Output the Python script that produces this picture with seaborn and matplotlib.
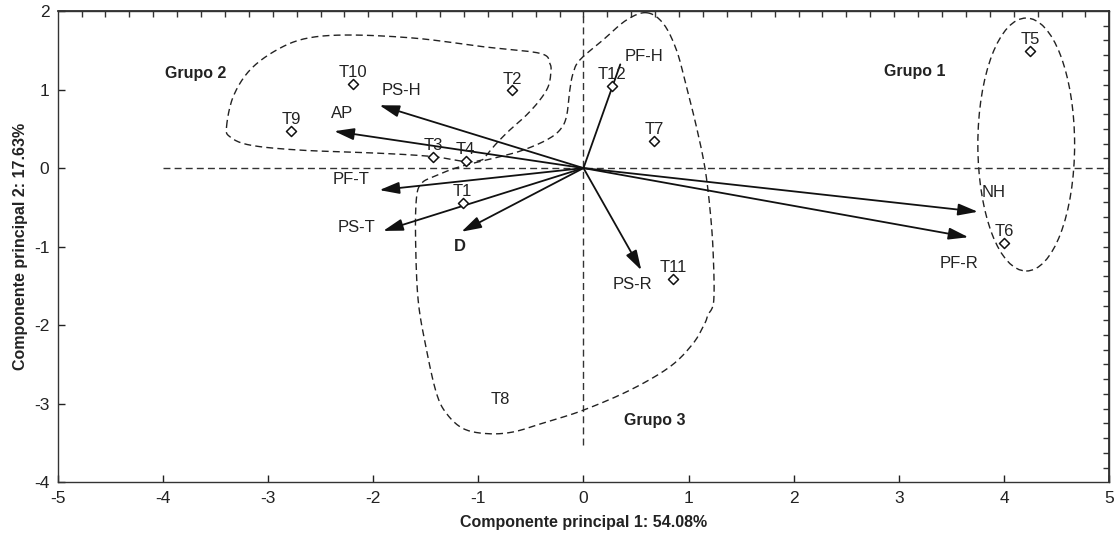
import matplotlib
matplotlib.use("Agg")
import matplotlib.pyplot as plt
from matplotlib.patches import Ellipse
import numpy as np
import pandas as pd
import seaborn as sns

# Scores of the treatments (T8 only shows its label)
obs_names = ["T1", "T2", "T3", "T4", "T5", "T6", "T7", "T8", "T9", "T10", "T11", "T12"]
obs_x = [-1.15, -0.68, -1.43, -1.12, 4.25, 4.00, 0.67, -0.79, -2.78, -2.19, 0.855, 0.27]
obs_y = [-0.44, 0.99, 0.144, 0.089, 1.49, -0.95, 0.344, -2.95, 0.475, 1.07, -1.41, 1.045]
obs_marker = [True, True, True, True, True, True, True, False, True, True, True, True]

# Loadings of the variables (arrow tips) and where their labels sit
var_names = ["PS-H", "AP", "PF-T", "PS-T", "D", "PF-H", "PS-R", "NH", "PF-R"]
var_x = [-1.94, -2.37, -1.94, -1.905, -1.16, 0.35, 0.55, 3.75, 3.66]
var_y = [0.80, 0.47, -0.28, -0.80, -0.81, 1.32, -1.30, -0.556, -0.88]
var_head = [True, True, True, True, True, False, True, True, True]
var_lab_x = [-1.73, -2.30, -2.21, -2.16, -1.18, 0.576, 0.466, 3.90, 3.57]
var_lab_y = [0.99, 0.70, -0.15, -0.755, -1.0, 1.42, -1.48, -0.31, -1.21]
var_bold = [False, False, False, False, True, False, False, False, False]

# Group labels
grp_names = ["Grupo 1", "Grupo 2", "Grupo 3"]
grp_x = [3.15, -3.69, 0.68]
grp_y = [1.23, 1.20, -3.21]

# Group outlines
g1_center = (4.21, 0.30)
g1_size = (0.92, 3.22)

g2_x = [-3.394, -3.331, -3.172, -2.918, -2.633, -2.221, -1.587, -0.954, -0.415, -0.320,
        -0.311, -0.336, -0.415, -0.542, -0.701, -0.827, -0.922, -0.970, -1.122, -1.430,
        -1.905, -2.697, -3.172, -3.362]
g2_y = [0.526, 0.908, 1.248, 1.503, 1.652, 1.694, 1.652, 1.545, 1.461, 1.334,
        1.206, 1.036, 0.866, 0.675, 0.484, 0.315, 0.166, 0.102, 0.083, 0.146,
        0.187, 0.229, 0.293, 0.399]

g3_x = [0.599, 0.757, 0.884, 0.979, 1.074, 1.153, 1.201, 1.232, 1.239, 1.182,
        1.153, 1.042, 0.820, 0.440, -0.004, -0.352, -0.669, -0.922, -1.144, -1.302,
        -1.397, -1.492, -1.572, -1.597, -1.587, -1.540, -1.430, -1.176, -0.796, -0.574,
        -0.352, -0.225, -0.162, -0.130, -0.099, -0.035, 0.186, 0.409]
g3_y = [1.978, 1.843, 1.503, 1.036, 0.526, 0.017, -0.493, -1.045, -1.682, -1.873,
        -1.978, -2.233, -2.531, -2.828, -3.083, -3.232, -3.359, -3.380, -3.316, -3.125,
        -2.870, -2.318, -1.682, -0.875, -0.366, -0.195, -0.111, 0.017, 0.144, 0.229,
        0.357, 0.484, 0.654, 0.994, 1.206, 1.376, 1.631, 1.885]


def smooth_closed(xs, ys, n=12):
    # closed Catmull-Rom curve through the outline points
    p = np.column_stack([xs, ys])
    m = len(p)
    out = []
    t = np.linspace(0, 1, n, endpoint=False)[:, None]
    for i in range(m):
        p0, p1, p2, p3 = p[i - 1], p[i], p[(i + 1) % m], p[(i + 2) % m]
        seg = 0.5 * ((2 * p1) + (-p0 + p2) * t + (2 * p0 - 5 * p1 + 4 * p2 - p3) * t ** 2
                     + (-p0 + 3 * p1 - 3 * p2 + p3) * t ** 3)
        out.append(seg)
    out = np.vstack(out + [p[:1]])
    return out[:, 0], out[:, 1]


sns.set_theme(style="ticks")
plt.rcParams["font.family"] = ["Liberation Sans", "DejaVu Sans"]
plt.rcParams["axes.unicode_minus"] = False

ink = "#222222"
fig = plt.figure(figsize=(11.15, 5.38), dpi=100)
ax = fig.add_axes([0.0517, 0.1035, 0.9432, 0.8761])

dash = (0, (5, 3))
ax.plot([-4, 5], [0, 0], color="#333333", lw=1, linestyle=dash)
ax.plot([0, 0], [-3.53, 2], color="#333333", lw=1, linestyle=dash)

# outlines
ax.add_patch(Ellipse(g1_center, g1_size[0], g1_size[1], fill=False, ec=ink, lw=1, linestyle=dash))
for gx, gy in [(g2_x, g2_y), (g3_x, g3_y)]:
    sx, sy = smooth_closed(gx, gy)
    ax.plot(sx, sy, color=ink, lw=1, linestyle=dash)

# arrows
for name, x, y, head in zip(var_names, var_x, var_y, var_head):
    if head:
        ax.annotate("", xy=(x, y), xytext=(0, 0),
                    arrowprops=dict(arrowstyle="-|>,head_length=1.0,head_width=0.3",
                                    color="#111111", lw=1.3, shrinkA=0, shrinkB=0))
    else:
        ax.plot([0, x], [0, y], color="#111111", lw=1.3)

for name, x, y, b in zip(var_names, var_lab_x, var_lab_y, var_bold):
    ax.text(x, y, name, ha="center", va="center", fontsize=12, color=ink,
            fontweight="bold" if b else "normal")

obs = pd.DataFrame({"name": obs_names, "x": obs_x, "y": obs_y, "marker": obs_marker})
sns.scatterplot(data=obs[obs["marker"]], x="x", y="y", marker="D", s=26,
                facecolor="white", edgecolor="#111111", linewidth=1.1, ax=ax, zorder=5)
for _, r in obs.iterrows():
    off = 8 if r["marker"] else 0
    ax.annotate(r["name"], (r["x"], r["y"]), xytext=(0, off), textcoords="offset points",
                ha="center", va="center", fontsize=12, color=ink)

for name, x, y in zip(grp_names, grp_x, grp_y):
    ax.text(x, y, name, ha="center", va="center", fontsize=11.5, fontweight="bold", color=ink)

ax.set_xlim(-5, 5)
ax.set_ylim(-4, 2)
ax.set_xticks(range(-5, 6))
ax.set_yticks(range(-4, 3))
ax.tick_params(direction="in", length=5, width=1, labelsize=12.5, colors=ink,
               top=False, right=False, pad=6)
ax.set_xlabel("Componente principal 1: 54.08%", fontsize=11.5, fontweight="bold", color=ink, labelpad=7)
ax.set_ylabel("Componente principal 2: 17.63%", fontsize=11.5, fontweight="bold", color=ink, labelpad=4)
for s in ax.spines.values():
    s.set_color("#333333")
    s.set_linewidth(1)

top = ax.secondary_xaxis("top")
top.set_xticks(np.linspace(-5, 5, 45)[1:-1])
top.tick_params(direction="in", length=4, width=1, labeltop=False, colors="#333333")
right = ax.secondary_yaxis("right")
right.set_yticks(np.linspace(-4, 2, 33)[1:-1])
right.tick_params(direction="in", length=4, width=1, labelright=False, colors="#333333")

fig.savefig("out.png", dpi=100)
